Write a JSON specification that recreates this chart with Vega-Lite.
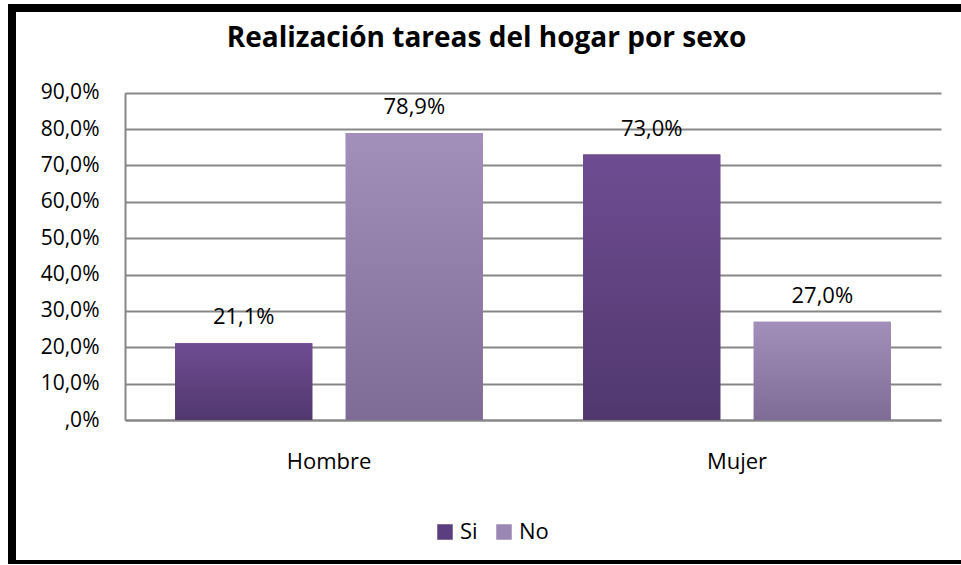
{
  "$schema": "https://vega.github.io/schema/vega-lite/v6.json",
  "width": 955,
  "height": 556,
  "autosize": {"type": "none"},
  "padding": {"left": 12, "top": 8, "right": 0, "bottom": 0},
  "background": "white",
  "config": {
    "view": {"stroke": "black", "strokeWidth": 8, "fill": "white"},
    "font": "Open Sans"
  },
  "title": {
    "text": "Realización tareas del hogar por sexo",
    "anchor": "middle",
    "frame": "group",
    "offset": -67,
    "dx": -3,
    "baseline": "alphabetic",
    "fontSize": 28,
    "fontWeight": "bold",
    "font": "Open Sans",
    "color": "black"
  },
  "data": {
    "values": [
      {"sexo": "Hombre", "serie": "Si", "v": 0.211},
      {"sexo": "Hombre", "serie": "No", "v": 0.789},
      {"sexo": "Mujer", "serie": "Si", "v": 0.730},
      {"sexo": "Mujer", "serie": "No", "v": 0.270}
    ]
  },
  "transform": [
    {"calculate": "replace(format(datum.v, '.1%'), '.', ',')", "as": "label"}
  ],
  "encoding": {
    "x": {
      "field": "sexo",
      "type": "nominal",
      "sort": ["Hombre", "Mujer"],
      "scale": {"range": [113, 929], "paddingInner": 0, "paddingOuter": 0},
      "axis": {
        "offset": -144,
        "ticks": false,
        "labelPadding": 31,
        "domainColor": "#878787",
        "domainWidth": 2,
        "title": null,
        "labelAngle": 0,
        "labelFontSize": 22,
        "labelColor": "black",
        "labelFont": "Open Sans",
        "grid": false
      }
    },
    "xOffset": {
      "field": "serie",
      "type": "nominal",
      "scale": {"domain": ["Si", "No"], "paddingInner": 0.196, "paddingOuter": 0.294}
    },
    "y": {
      "field": "v",
      "type": "quantitative",
      "scale": {"domain": [0, 0.9], "range": [412, 84.7], "nice": false, "zero": true},
      "axis": {
        "values": [0, 0.1, 0.2, 0.3, 0.4, 0.5, 0.6, 0.7, 0.8, 0.9],
        "labelExpr": "datum.value == 0 ? ',0%' : replace(format(datum.value, '.1%'), '.', ',')",
        "offset": -113,
        "ticks": false,
        "labelPadding": 26,
        "domainColor": "#878787",
        "domainWidth": 2,
        "grid": true,
        "gridColor": "#878787",
        "gridWidth": 2,
        "gridOpacity": 1,
        "title": null,
        "labelFontSize": 21,
        "labelColor": "black",
        "labelFont": "Open Sans"
      }
    }
  },
  "layer": [
    {
      "mark": {"type": "bar"},
      "encoding": {
        "color": {
          "field": "serie",
          "type": "nominal",
          "scale": {"domain": ["Si", "No"], "range": ["#5a3e7f", "#9a87b3"]},
          "legend": {
            "orient": "none",
            "legendX": 422,
            "legendY": 513,
            "direction": "horizontal",
            "title": null,
            "symbolType": "square",
            "symbolSize": 240,
            "symbolStrokeWidth": 0,
            "symbolOpacity": 1,
            "labelFontSize": 22,
            "labelColor": "black",
            "labelFont": "Open Sans",
            "labelOffset": 4,
            "columnPadding": 15
          }
        }
      }
    },
    {
      "transform": [{"filter": "datum.serie === 'Si'"}],
      "mark": {
        "type": "bar",
        "color": {
          "gradient": "linear",
          "x1": 0, "y1": 0, "x2": 0, "y2": 1,
          "stops": [
            {"offset": 0, "color": "#6f4c92"},
            {"offset": 1, "color": "#50386e"}
          ]
        }
      }
    },
    {
      "transform": [{"filter": "datum.serie === 'No'"}],
      "mark": {
        "type": "bar",
        "color": {
          "gradient": "linear",
          "x1": 0, "y1": 0, "x2": 0, "y2": 1,
          "stops": [
            {"offset": 0, "color": "#a28fba"},
            {"offset": 1, "color": "#7f6c96"}
          ]
        }
      }
    },
    {
      "mark": {"type": "text", "dy": -26, "baseline": "middle", "fontSize": 22, "color": "black", "font": "Open Sans"},
      "encoding": {"text": {"field": "label", "type": "nominal"}}
    }
  ]
}
